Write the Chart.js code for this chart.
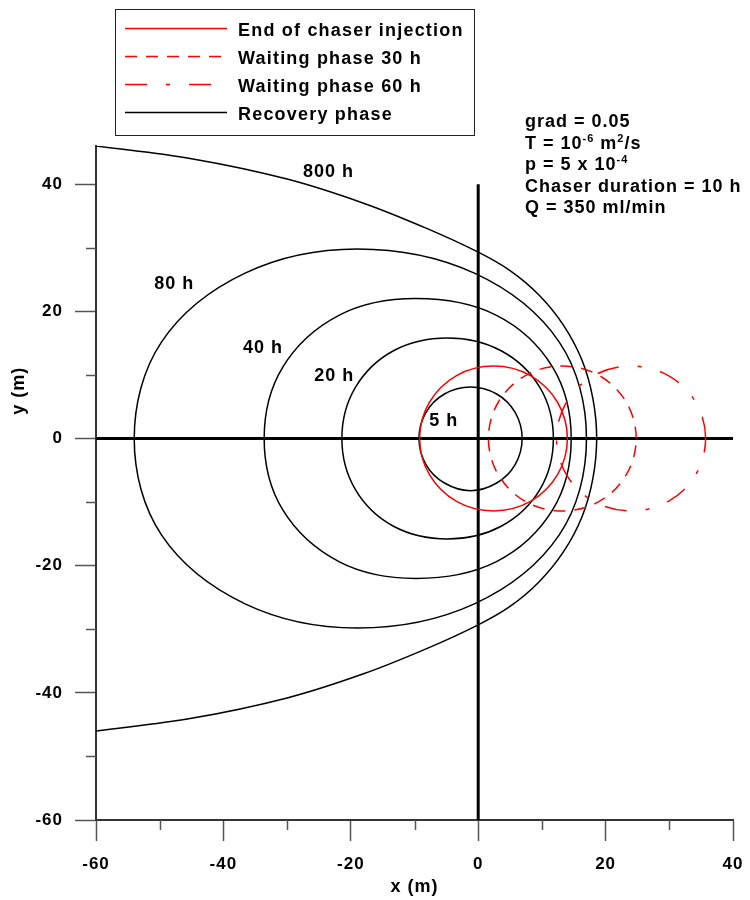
<!DOCTYPE html>
<html>
<head>
<meta charset="utf-8">
<script src="https://cdn.jsdelivr.net/npm/chart.js@4.4.1/dist/chart.umd.min.js"></script>
<style>
  html, body { margin: 0; padding: 0; background: #fff; }
  #wrap { position: relative; width: 750px; height: 900px; }
</style>
</head>
<body>
<div id="wrap"><canvas id="plumes"></canvas></div>
<script>
// axis ticks: every 10 m, labelled every 20 m
const xTickValues = [-60, -50, -40, -30, -20, -10, 0, 10, 20, 30, 40];
const yTickValues = [-60, -50, -40, -30, -20, -10, 0, 10, 20, 30, 40];
const labelledTicks = [-60, -40, -20, 0, 20, 40];

// red: chaser plume at end of injection and after waiting
const chaserEndX = [14.0, 12.45, 8.2, 2.4, -3.4, -7.65, -9.2, -7.65, -3.4, 2.4, 8.2, 12.45];
const chaserEndY = [0, 5.7, 9.9, 11.4, 9.9, 5.7, 0, -5.7, -9.9, -11.4, -9.9, -5.7];
const wait30X = [24.8, 23.25, 19.0, 13.2, 7.4, 3.15, 1.6, 3.15, 7.4, 13.2, 19.0, 23.25];
const wait30Y = [0, 5.7, 9.9, 11.4, 9.9, 5.7, 0, -5.7, -9.9, -11.4, -9.9, -5.7];
const wait60X = [35.7, 34.15, 29.85, 24.0, 18.15, 13.85, 12.3, 13.85, 18.15, 24.0, 29.85, 34.15];
const wait60Y = [0, 5.7, 9.9, 11.4, 9.9, 5.7, 0, -5.7, -9.9, -11.4, -9.9, -5.7];

// black: recovery phase capture zones
const rec5X = [6.9, 5.8, 2.9, -1.2, -5.3, -8.2, -9.3, -8.2, -5.3, -1.2, 2.9, 5.8];
const rec5Y = [0, 4.1, 7.0, 8.1, 7.0, 4.1, 0, -4.1, -7.0, -8.2, -7.0, -4.1];
const rec20X = [11.8, 9.7, 3.6, -4.8, -13.3, -19.3, -21.4, -19.3, -13.3, -4.8, 3.6, 9.7];
const rec20Y = [0, 8.0, 13.8, 15.8, 13.8, 8.0, 0, -8.0, -13.8, -15.8, -13.8, -8.0];
const rec40X = [14.6, 11.7, 2.8, -9.8, -21.8, -30.7, -33.6, -30.7, -21.8, -9.8, 2.8, 11.7];
const rec40Y = [0, 11.2, 19.4, 22.0, 19.4, 11.2, 0, -11.2, -19.4, -22.0, -19.4, -11.2];
const rec80X = [17.0, 12.7, -0.6, -19.0, -36.6, -49.7, -54.0, -49.7, -36.6, -19.0, -0.6, 12.7];
const rec80Y = [0, 15.2, 26.0, 29.8, 26.0, 15.2, 0, -15.2, -26.0, -29.8, -26.0, -15.2];
const rec800X = [-60, -45, -30, -18, -8, 0, 5, 9.5, 13.4, 16.3, 18.0, 18.6, 18.0, 16.3, 13.4, 9.5, 5, 0, -8, -18, -30, -45, -60];
const rec800Y = [46, 44, 40.8, 37, 33.0, 29.3, 26.4, 22.6, 17.8, 12.3, 6.3, 0, -6.3, -12.3, -17.8, -22.6, -26.4, -29.3, -33.0, -37, -40.8, -44, -46];

// heavy zero lines through the well
const zeroLineX = [-60, 40];
const zeroLineY = [0, 0];
const wellLineX = [0, 0];
const wellLineY = [40, -60];

const legendNames = ['End of chaser injection', 'Waiting phase 30 h', 'Waiting phase 60 h', 'Recovery phase'];

const curveLabels = ['800 h', '80 h', '40 h', '20 h', '5 h'];
const curveLabelX = [-23.5, -47.7, -33.8, -22.6, -5.4];
const curveLabelY = [41.9, 24.3, 14.3, 9.8, 2.7];

const noteLines = [
    [{ t: 'grad = 0.05' }],
    [{ t: 'T = 10' }, { t: '-6', sup: true }, { t: ' m' }, { t: '2', sup: true }, { t: '/s' }],
    [{ t: 'p = 5 x 10' }, { t: '-4', sup: true }],
    [{ t: 'Chaser duration = 10 h' }],
    [{ t: 'Q = 350 ml/min' }]
];

const FONT = '"Liberation Sans", Arial, Helvetica, sans-serif';
const RED = '#ff0000';
const DASHED = [12, 9];
const DASHDOT = [22, 19, 4, 19];

function toPoints(xs, ys) {
    return xs.map((x, i) => ({ x: x, y: ys[i] }));
}

// closed outline: wrap one point on each side so the spline joins smoothly,
// then hide the two extra segments
function ring(xs, ys, color, dash, label) {
    const n = xs.length;
    const pts = [{ x: xs[n - 1], y: ys[n - 1] }].concat(toPoints(xs, ys), [{ x: xs[0], y: ys[0] }, { x: xs[1], y: ys[1] }]);
    const last = pts.length - 1;
    return {
        label: label || '',
        data: pts,
        showLine: true,
        borderColor: color,
        borderWidth: 1.5,
        borderDash: dash || [],
        tension: 0.35,
        pointRadius: 0,
        segment: {
            borderColor: c => (c.p0DataIndex === 0 || c.p1DataIndex === last) ? 'rgba(0,0,0,0)' : undefined
        }
    };
}

function openLine(xs, ys, color, width, tension) {
    return {
        label: '',
        data: toPoints(xs, ys),
        showLine: true,
        borderColor: color,
        borderWidth: width,
        tension: tension,
        pointRadius: 0
    };
}

function drawRuns(ctx, x, y, runs) {
    runs.forEach(r => {
        ctx.font = r.sup ? 'bold 11px ' + FONT : 'bold 18px ' + FONT;
        ctx.fillText(r.t, x, r.sup ? y - 7 : y);
        x += ctx.measureText(r.t).width;
    });
}

const decorPlugin = {
    id: 'decor',
    beforeDraw(chart) {
        chart.ctx.letterSpacing = '1px';
    },
    afterDraw(chart) {
        const ctx = chart.ctx;
        const xs = chart.scales.x;
        const ys = chart.scales.y;
        const area = chart.chartArea;
        ctx.save();

        // short minor ticks
        ctx.strokeStyle = '#555';
        ctx.lineWidth = 1.5;
        ctx.beginPath();
        xTickValues.filter(v => !labelledTicks.includes(v)).forEach(v => {
            const px = Math.round(xs.getPixelForValue(v)) + 0.5;
            ctx.moveTo(px, area.bottom);
            ctx.lineTo(px, area.bottom + 10);
        });
        yTickValues.filter(v => !labelledTicks.includes(v)).forEach(v => {
            const py = Math.round(ys.getPixelForValue(v)) + 0.5;
            ctx.moveTo(area.left - 10, py);
            ctx.lineTo(area.left, py);
        });
        ctx.stroke();

        ctx.fillStyle = '#000';
        ctx.letterSpacing = '1.2px';

        // legend box
        ctx.strokeStyle = '#222';
        ctx.lineWidth = 1;
        ctx.strokeRect(115.5, 9.5, 359, 126);
        legendNames.forEach((name, i) => {
            const ds = chart.data.datasets.find(d => d.label === name);
            const base = 36 + i * 28;
            ctx.strokeStyle = ds.borderColor;
            ctx.lineWidth = 1.5;
            ctx.setLineDash(ds.borderDash || []);
            ctx.beginPath();
            ctx.moveTo(125, base - 7.5);
            ctx.lineTo(227, base - 7.5);
            ctx.stroke();
            ctx.setLineDash([]);
            ctx.font = 'bold 18px ' + FONT;
            ctx.textAlign = 'left';
            ctx.textBaseline = 'alphabetic';
            ctx.fillText(name, 238, base);
        });

        // parameters
        ctx.letterSpacing = '1px';
        ctx.textAlign = 'left';
        ctx.textBaseline = 'alphabetic';
        noteLines.forEach((runs, i) => drawRuns(ctx, 525, 127 + i * 21.5, runs));

        // labels on the recovery curves
        ctx.font = 'bold 18px ' + FONT;
        ctx.textAlign = 'center';
        ctx.textBaseline = 'middle';
        curveLabels.forEach((t, i) => {
            ctx.fillText(t, xs.getPixelForValue(curveLabelX[i]), ys.getPixelForValue(curveLabelY[i]));
        });

        // axis titles
        ctx.textBaseline = 'alphabetic';
        ctx.fillText('x (m)', (area.left + area.right) / 2, 892);
        ctx.translate(24, ys.getPixelForValue(7.5));
        ctx.rotate(-Math.PI / 2);
        ctx.fillText('y (m)', 0, 0);
        ctx.restore();
    }
};

function axisOptions(values, min, max, pad) {
    return {
        type: 'linear',
        min: min,
        max: max,
        afterBuildTicks: s => { s.ticks = values.map(v => ({ value: v })); },
        grid: {
            drawOnChartArea: false,
            drawTicks: true,
            tickLength: 21,
            tickWidth: 1.5,
            tickColor: c => (c.tick && labelledTicks.includes(c.tick.value)) ? '#555' : 'rgba(0,0,0,0)'
        },
        border: { display: true, color: '#333', width: 2 },
        ticks: {
            autoSkip: false,
            maxRotation: 0,
            padding: pad,
            color: '#000',
            font: { family: FONT, size: 17, weight: 'bold' },
            callback: v => labelledTicks.includes(v) ? String(v) : ''
        }
    };
}

document.addEventListener('DOMContentLoaded', function () {
    const xAxis = axisOptions(xTickValues, -60, 40, 13);
    xAxis.position = 'bottom';
    xAxis.afterFit = s => { s.height = 80; s.paddingLeft = 0; s.paddingRight = 0; };
    const yAxis = axisOptions(yTickValues, -60, 46, 12);
    yAxis.position = 'left';
    yAxis.afterFit = s => { s.width = 96; s.paddingTop = 0; s.paddingBottom = 0; };

    new Chart(document.getElementById('plumes'), {
        type: 'scatter',
        data: {
            datasets: [
                ring(chaserEndX, chaserEndY, RED, null, 'End of chaser injection'),
                ring(wait30X, wait30Y, RED, DASHED, 'Waiting phase 30 h'),
                ring(wait60X, wait60Y, RED, DASHDOT, 'Waiting phase 60 h'),
                ring(rec5X, rec5Y, '#000', null, 'Recovery phase'),
                ring(rec20X, rec20Y, '#000'),
                ring(rec40X, rec40Y, '#000'),
                ring(rec80X, rec80Y, '#000'),
                openLine(rec800X, rec800Y, '#000', 1.5, 0.35),
                openLine(zeroLineX, zeroLineY, '#000', 3, 0),
                openLine(wellLineX, wellLineY, '#000', 3, 0)
            ]
        },
        options: {
            responsive: true,
            maintainAspectRatio: false,
            animation: false,
            events: [],
            layout: { padding: { top: 146, right: 17, bottom: 0, left: 0 } },
            plugins: {
                legend: { display: false },
                tooltip: { enabled: false }
            },
            scales: { x: xAxis, y: yAxis }
        },
        plugins: [decorPlugin]
    });
});
</script>
</body>
</html>
